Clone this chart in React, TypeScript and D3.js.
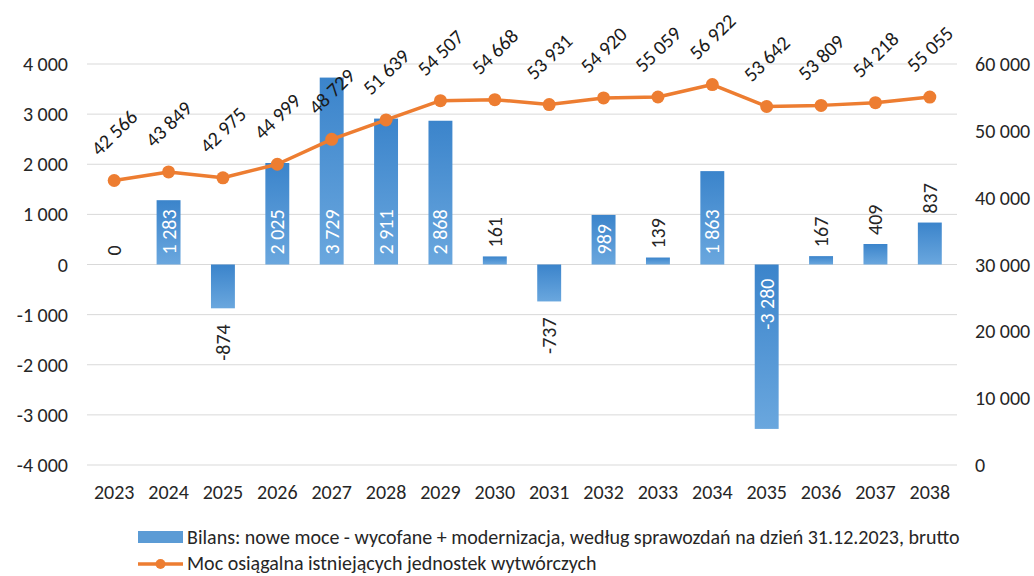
import React from "react";
import * as d3 from "d3";

const years = ["2023","2024","2025","2026","2027","2028","2029","2030","2031","2032","2033","2034","2035","2036","2037","2038"];
const balance = [0, 1283, -874, 2025, 3729, 2911, 2868, 161, -737, 989, 139, 1863, -3280, 167, 409, 837];
const capacity = [42566, 43849, 42975, 44999, 48729, 51639, 54507, 54668, 53931, 54920, 55059, 56922, 53642, 53809, 54218, 55055];
const leftTicks = [-4000, -3000, -2000, -1000, 0, 1000, 2000, 3000, 4000];
const rightTicks = [0, 10000, 20000, 30000, 40000, 50000, 60000];
const legendBars = "Bilans: nowe moce - wycofane + modernizacja, według sprawozdań na dzień 31.12.2023, brutto";
const legendLine = "Moc osiągalna istniejących jednostek wytwórczych";

const FONT = "Carlito, Lato, 'Open Sans', sans-serif";
const fmt = (v: number) => {
  const s = d3.format(",")(Math.abs(v)).replace(/,/g, " ");
  return (v < 0 ? "-" : "") + s;
};

export default function App() {
  const W = 1034, H = 576;
  const x = d3.scaleBand<string>().domain(years).range([87, 957]).padding(0);
  const yL = d3.scaleLinear().domain([-4000, 4000]).range([465, 64]);
  const yR = d3.scaleLinear().domain([0, 60000]).range([465, 64]);
  const bw = x.bandwidth() * 0.44;
  const cx = (y: string) => (x(y) as number) + x.bandwidth() / 2;
  const line = d3.line<number>().x((_, i) => cx(years[i])).y((d) => yR(d));
  const textColor = "#262626";
  const FS = 20;

  return (
    <svg width={W} height={H} style={{ position: "absolute", left: 0, top: 0, background: "#fff" }} fontFamily={FONT}>
      <defs>
        <linearGradient id="barGrad" x1="0" y1="0" x2="0" y2="1">
          <stop offset="0%" stopColor="#3b84cb" />
          <stop offset="100%" stopColor="#6aa7de" />
        </linearGradient>
      </defs>
      <rect x={0} y={0} width={W} height={H} fill="#fff" />
      {leftTicks.map((t) => (
        <g key={t}>
          <line x1={87} x2={957} y1={yL(t)} y2={yL(t)} stroke="#d9d9d9" strokeWidth={1} />
          <text x={68} y={yL(t)} textAnchor="end" dominantBaseline="central" fontSize={FS} fill={textColor}>{fmt(t)}</text>
        </g>
      ))}
      {rightTicks.map((t) => (
        <text key={t} x={975} y={yR(t)} textAnchor="start" dominantBaseline="central" fontSize={FS} fill={textColor}>{fmt(t)}</text>
      ))}
      {years.map((yr) => (
        <text key={yr} x={cx(yr)} y={492} textAnchor="middle" dominantBaseline="central" fontSize={FS} fill={textColor}>{yr}</text>
      ))}
      {balance.map((v, i) => {
        const y0 = yL(0), y1 = yL(v);
        return (
          <rect key={i} x={cx(years[i]) - bw / 2} y={Math.min(y0, y1)} width={bw} height={Math.max(Math.abs(y1 - y0), 0.01)} fill="url(#barGrad)" />
        );
      })}
      {balance.map((v, i) => {
        const xc = cx(years[i]);
        const inside = Math.abs(v) >= 950;
        let ty: number, anchor: string, fill: string;
        if (inside) {
          fill = "#ffffff";
          if (v > 0) { ty = yL(0) - 10; anchor = "start"; }
          else { ty = yL(0) + 14; anchor = "end"; }
        } else {
          fill = textColor;
          if (v >= 0) { ty = yL(v) - 9; anchor = "start"; }
          else { ty = yL(v) + 16; anchor = "end"; }
        }
        return (
          <text key={i} transform={`translate(${xc},${ty}) rotate(-90)`} textAnchor={anchor} dominantBaseline="central" fontSize={FS} fill={fill}>{fmt(v)}</text>
        );
      })}
      <path d={line(capacity) || ""} fill="none" stroke="#ed7d31" strokeWidth={3.5} strokeLinejoin="round" />
      {capacity.map((v, i) => (
        <circle key={i} cx={cx(years[i])} cy={yR(v)} r={6.5} fill="#ed7d31" />
      ))}
      {capacity.map((v, i) => (
        <text key={i} transform={`translate(${cx(years[i])},${yR(v) - 48}) rotate(-44)`} textAnchor="middle" dominantBaseline="central" fontSize={FS} fill="#1a1a1a">{fmt(v)}</text>
      ))}
      <rect x={138} y={531} width={45} height={12} fill="#5b9bd5" />
      <text x={187} y={537} dominantBaseline="central" fontSize={FS} fill={textColor}>{legendBars}</text>
      <line x1={138} x2={183} y1={564} y2={564} stroke="#ed7d31" strokeWidth={3.5} />
      <circle cx={160.5} cy={564} r={5} fill="#ed7d31" />
      <text x={187} y={563} dominantBaseline="central" fontSize={FS} fill={textColor}>{legendLine}</text>
    </svg>
  );
}
